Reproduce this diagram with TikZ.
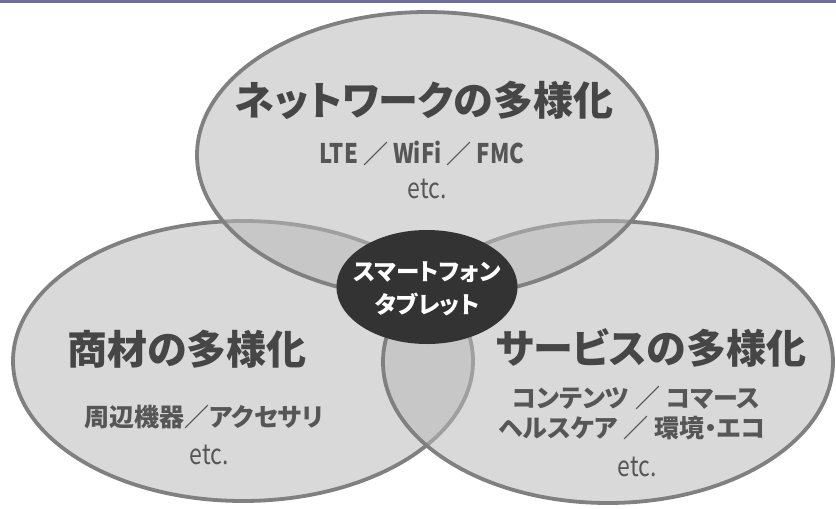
\documentclass[tikz,border=0pt]{standalone}
\usepackage{fontspec}
\usetikzlibrary{shapes.geometric}
\newfontfamily\jp{Noto Sans CJK JP}[RawFeature=+palt]
\newfontfamily\jpnarrow{Noto Sans CJK JP}[FakeStretch=0.82]
\definecolor{edgegrey}{RGB}{128,128,128}
\definecolor{fillgrey}{RGB}{186,186,186}
\definecolor{titlegrey}{RGB}{70,70,70}
\definecolor{subgrey}{RGB}{86,86,86}
\definecolor{hubfill}{RGB}{51,51,51}
\definecolor{topbar}{RGB}{108,108,158}
\begin{document}
\begin{tikzpicture}[x=1pt,y=-1pt,
  venn/.style={draw=edgegrey, line width=3.8pt, fill=fillgrey, fill opacity=0.55, draw opacity=1},
  title/.style={inner sep=0, text=titlegrey, font=\jp\bfseries\fontsize{40}{46}\selectfont},
  sub/.style={inner sep=0, text=subgrey, font=\jp\bfseries\fontsize{25}{29}\selectfont},
  latin/.style={inner sep=0, text=subgrey, font=\jpnarrow\bfseries\fontsize{27}{31}\selectfont},
  etcs/.style={inner sep=0, text=subgrey, font=\jpnarrow\fontsize{28}{32}\selectfont},
  hubtext/.style={inner sep=0, text=white, font=\jp\bfseries\fontsize{23.5}{27}\selectfont}]
\useasboundingbox (0,0) rectangle (836,509);
\fill[white] (0,0) rectangle (836,509);
\fill[topbar] (0,0) rectangle (836,3);
% circles
\path[venn] (243,361) ellipse [x radius=230pt, y radius=140pt];
\path[venn] (608,362) ellipse [x radius=225pt, y radius=141pt];
\path[venn] (427,155) ellipse [x radius=230pt, y radius=143pt];
% hub
\node[ellipse, fill=hubfill, inner sep=0, minimum width=181pt, minimum height=114pt] (hub) at (427,287) {};
\node[hubtext] (hub1) at (427,272) {スマートフォン};
\node[hubtext] (hub2) at (427,304) {タブレット};
% top
\node[title] (nettitle) at (424,100) {ネットワークの多様化};
\node[latin] (netsub) at (422,153) {LTE {\jp\fontsize{25}{29}\selectfont ／} WiFi {\jp\fontsize{25}{29}\selectfont ／} FMC};
\node[etcs] (netetc) at (427,189) {etc.};
% left
\node[title] (goodstitle) at (187,349) {商材の多様化};
\node[sub] (goodssub) at (204,417) {周辺機器／アクセサリ};
\node[etcs] (goodsetc) at (209,455) {etc.};
% right
\node[title] (svctitle) at (651,348) {サービスの多様化};
\node[sub] (svcsub1) at (636,398) {コンテンツ ／ コマース};
\node[sub] (svcsub2) at (632,428) {ヘルスケア ／ 環境・エコ};
\node[etcs] (svcetc) at (637,467) {etc.};
\end{tikzpicture}
\end{document}
